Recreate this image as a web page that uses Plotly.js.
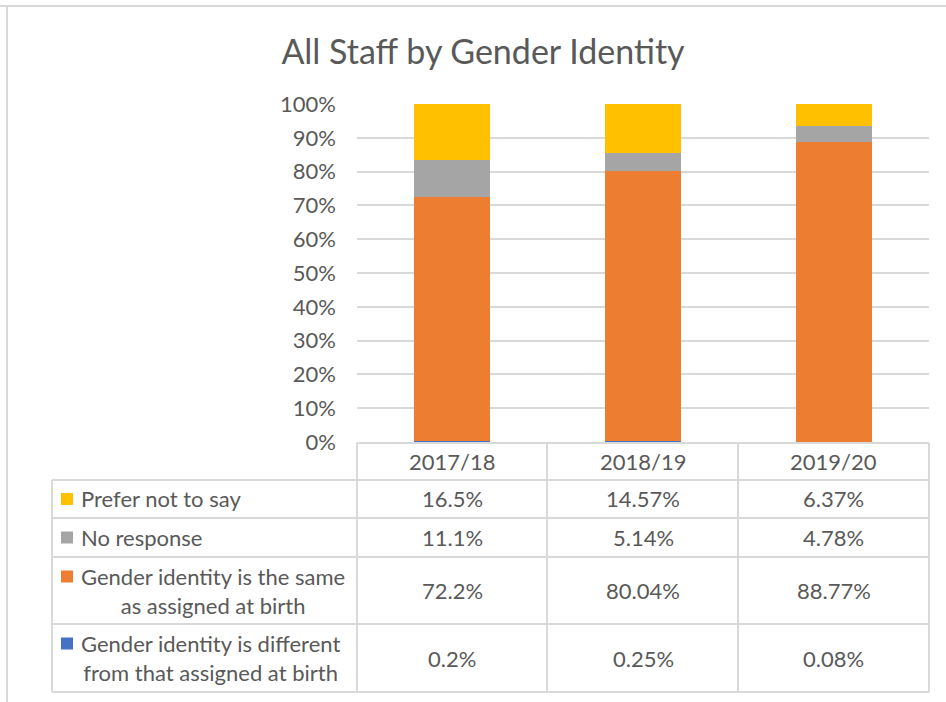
<!DOCTYPE html>
<html>
<head>
<meta charset="utf-8">
<script src="https://cdn.plot.ly/plotly-3.0.1.min.js"></script>
<style>html,body{margin:0;padding:0;background:#fff;}#chart{width:946px;height:702px;}</style>
</head>
<body>
<div id="chart"></div>
<script>
// ---- data ----
const categories = ["2017/18", "2018/19", "2019/20"];
const seriesNames = [
  "Gender identity is different from that assigned at birth",
  "Gender identity is the same as assigned at birth",
  "No response",
  "Prefer not to say"
];
const differentVals = [0.2, 0.25, 0.08];
const sameVals = [72.2, 80.04, 88.77];
const noResponseVals = [11.1, 5.14, 4.78];
const preferNotVals = [16.5, 14.57, 6.37];
const differentLabels = ["0.2%", "0.25%", "0.08%"];
const sameLabels = ["72.2%", "80.04%", "88.77%"];
const noResponseLabels = ["11.1%", "5.14%", "4.78%"];
const preferNotLabels = ["16.5%", "14.57%", "6.37%"];
const tickVals = [0,10,20,30,40,50,60,70,80,90,100];
const tickText = ["0%","10%","20%","30%","40%","50%","60%","70%","80%","90%","100%"];

// ---- style ----
const W = 946, H = 702;
const FONT = "Lato, 'Open Sans', sans-serif";
const TXT = "#595959";
const GRID = "#D9D9D9";
const colors = {
  different: "#4472C4",
  same: "#ED7D31",
  noresp: "#A5A5A5",
  prefer: "#FFC000"
};
const px = x => x / W;
const py = y => 1 - y / H;

const plotL = 357, plotR = 929, plotT = 104, plotB = 442;

const traces = [
  {name: seriesNames[0], vals: differentVals, color: colors.different},
  {name: seriesNames[1], vals: sameVals, color: colors.same},
  {name: seriesNames[2], vals: noResponseVals, color: colors.noresp},
  {name: seriesNames[3], vals: preferNotVals, color: colors.prefer}
].map(s => ({
  type: "bar", x: categories, y: s.vals, name: s.name,
  marker: {color: s.color, line: {width: 0}},
  hoverinfo: "skip", showlegend: false
}));

// ---- table (data table beneath the chart) ----
const tableLeft = 52;
const colX = [357, 547, 738, 929];
const rowY = [443, 480, 518, 557, 624, 692];
const shapes = [];
const lineStyle = {color: GRID, width: 2};
function hline(x0, x1, y) { shapes.push({type:"line", xref:"paper", yref:"paper", x0:px(x0), x1:px(x1), y0:py(y), y1:py(y), line:lineStyle, layer:"above"}); }
function vline(x, y0, y1) { shapes.push({type:"line", xref:"paper", yref:"paper", x0:px(x), x1:px(x), y0:py(y0), y1:py(y1), line:lineStyle, layer:"above"}); }
hline(colX[0], colX[3], rowY[0]);
for (let i = 1; i < rowY.length; i++) hline(tableLeft, colX[3], rowY[i]);
vline(tableLeft, rowY[1], rowY[5]);
colX.forEach(x => vline(x, rowY[0], rowY[5]));
// outer chart border
shapes.push({type:"line", xref:"paper", yref:"paper", x0:px(0), x1:px(W), y0:py(6), y1:py(6), line:{color:GRID, width:2}});
shapes.push({type:"line", xref:"paper", yref:"paper", x0:px(7), x1:px(7), y0:py(6), y1:py(H), line:{color:GRID, width:2}});

const annotations = [];
const FS = 22;
categories.forEach((c, i) => {
  annotations.push({xref:"x", yref:"paper", x:c, y:py((rowY[0]+rowY[1])/2), text:c, showarrow:false,
    font:{family:FONT, size:FS, color:TXT}, xanchor:"center", yanchor:"middle"});
});
const rows = [
  {label:"Prefer not to say", labels:preferNotLabels, color:colors.prefer, lines:1},
  {label:"No response", labels:noResponseLabels, color:colors.noresp, lines:1},
  {label:"Gender identity is the same<br>as assigned at birth", labels:sameLabels, color:colors.same, lines:2},
  {label:"Gender identity is different<br>from that assigned at birth", labels:differentLabels, color:colors.different, lines:2}
];
rows.forEach((r, j) => {
  const yTop = rowY[j+1], yBot = rowY[j+2];
  const yMid = (yTop + yBot) / 2;
  const keyY = r.lines === 1 ? yMid : yTop + 19.5;
  shapes.push({type:"rect", xref:"paper", yref:"paper", x0:px(61), x1:px(73), y0:py(keyY-6), y1:py(keyY+6), fillcolor:r.color, line:{width:0}});
  annotations.push({xref:"paper", yref:"paper", x:px(79), y:py(yMid), text:r.label, showarrow:false,
    align:"center", xanchor:"left", yanchor:"middle",
    font:{family:FONT, size:FS, color:TXT}});
  r.labels.forEach((t, i) => {
    annotations.push({xref:"x", yref:"paper", x:categories[i], y:py(yMid), text:t, showarrow:false,
      font:{family:FONT, size:FS, color:TXT}, xanchor:"center", yanchor:"middle"});
  });
});

const layout = {
  width: W, height: H,
  margin: {l:0, r:0, t:0, b:0},
  paper_bgcolor: "#fff", plot_bgcolor: "#fff",
  barmode: "stack", bargap: 0.6,
  showlegend: false,
  title: {text: "All Staff by Gender Identity", x: 483/W, xanchor:"center", y: py(52), yanchor:"middle",
    font: {family: FONT, size: 34, color: TXT}},
  xaxis: {domain: [px(plotL), px(plotR)], showticklabels: false, ticks: "", showgrid: false, zeroline: false, showline: false, fixedrange: true},
  yaxis: {domain: [py(plotB), py(plotT)], range: [0, 100], tickvals: tickVals, ticktext: tickText,
    showgrid: true, gridcolor: GRID, gridwidth: 2, zeroline: false, showline: false, ticks: "",
    ticklabelstandoff: 20,
    tickfont: {family: FONT, size: FS, color: TXT}, fixedrange: true},
  shapes: shapes,
  annotations: annotations
};

Plotly.newPlot("chart", traces, layout, {staticPlot: true, displayModeBar: false});
</script>
</body>
</html>
